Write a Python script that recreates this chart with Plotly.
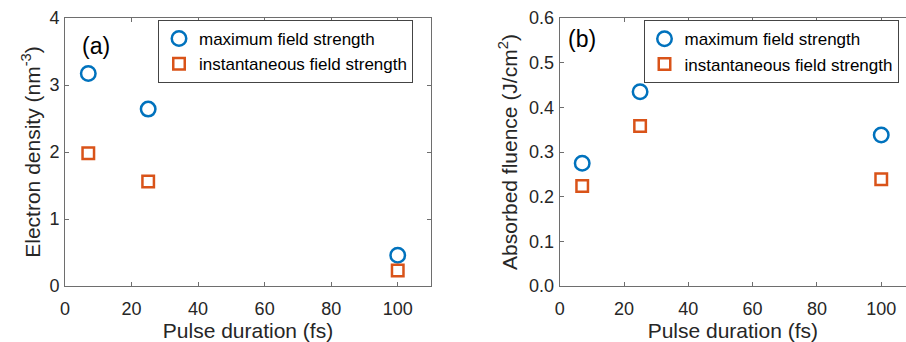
import plotly.graph_objects as go

pulse_fs = [7, 25, 100]
density_max = [3.17, 2.64, 0.46]
density_inst = [1.98, 1.56, 0.23]
fluence_max = [0.275, 0.435, 0.338]
fluence_inst = [0.224, 0.358, 0.239]

name_max = "maximum field strength"
name_inst = "instantaneous field strength"

BLUE = "#0072BD"
ORANGE = "#D95319"
TXT = "#262626"
LINE = "#6e6e6e"
FONT = "Liberation Sans, Arial, sans-serif"

W, H = 906, 342
ML, MR, MT, MB = 65, 0, 18, 56
PW = W - ML - MR

def px(x):
    return (x - ML) / PW

fig = go.Figure()
circ = dict(symbol="circle-open", size=14.5, line=dict(width=2.5, color=BLUE), color=BLUE)
sq = dict(symbol="square-open", size=11.5, line=dict(width=2.5, color=ORANGE), color=ORANGE)

fig.add_trace(go.Scatter(x=pulse_fs, y=density_max, mode="markers", name=name_max,
                         marker=circ, xaxis="x", yaxis="y", legend="legend"))
fig.add_trace(go.Scatter(x=pulse_fs, y=density_inst, mode="markers", name=name_inst,
                         marker=sq, xaxis="x", yaxis="y", legend="legend"))
fig.add_trace(go.Scatter(x=pulse_fs, y=fluence_max, mode="markers", name=name_max,
                         marker=circ, xaxis="x2", yaxis="y2", legend="legend2"))
fig.add_trace(go.Scatter(x=pulse_fs, y=fluence_inst, mode="markers", name=name_inst,
                         marker=sq, xaxis="x2", yaxis="y2", legend="legend2"))

axcommon = dict(showgrid=False, zeroline=False, showline=True, linecolor=LINE, linewidth=1,
                ticks="inside", ticklen=4, tickcolor=LINE,
                tickfont=dict(family=FONT, size=18, color=TXT))
titlefont = dict(family=FONT, size=21, color=TXT)

legcommon = dict(bgcolor="white", bordercolor="#444", borderwidth=1,
                 font=dict(family=FONT, size=17, color="black"),
                 xanchor="left", yanchor="top", tracegroupgap=0, itemsizing="trace")

fig.update_layout(
    width=W, height=H,
    margin=dict(l=ML, r=MR, t=MT, b=MB, autoexpand=False),
    paper_bgcolor="white", plot_bgcolor="white",
    xaxis=dict(domain=[0, px(431)], range=[0, 110], tickvals=[0, 20, 40, 60, 80, 100],
               mirror="ticks", anchor="y", ticklabelstandoff=6,
               title=dict(text="Pulse duration (fs)", font=titlefont, standoff=4), **axcommon),
    yaxis=dict(domain=[0, 1], range=[0, 4], tickvals=[0, 1, 2, 3, 4], mirror="ticks", anchor="x",
               ticklabelstandoff=1, tickformat="d",
               title=dict(text="Electron density (nm<sup>-3</sup>)", font=titlefont, standoff=3), **axcommon),
    xaxis2=dict(domain=[px(559.7), 1], range=[0, 107.7], tickvals=[0, 20, 40, 60, 80, 100],
                mirror="ticks", anchor="y2", ticklabelstandoff=6,
                title=dict(text="Pulse duration (fs)", font=titlefont, standoff=4), **axcommon),
    yaxis2=dict(domain=[0, 1], range=[0, 0.6], tickvals=[0, 0.1, 0.2, 0.3, 0.4, 0.5, 0.6],
                tickformat=".1f", anchor="x2", mirror=False, ticklabelstandoff=1,
                title=dict(text="Absorbed fluence (J/cm<sup>2</sup>)", font=titlefont, standoff=5), **axcommon),
    legend=dict(x=px(158), y=(286 - 20) / 268, **legcommon),
    legend2=dict(x=px(643.5), y=(286 - 20.3) / 268, **legcommon),
    annotations=[
        dict(text="(a)", xref="x domain", yref="y domain", x=(80 - 65) / 366, y=(286 - 46) / 268,
             xanchor="left", yanchor="middle", showarrow=False, font=dict(family=FONT, size=23, color="black")),
        dict(text="(b)", xref="x2 domain", yref="y2 domain", x=(566.3 - 559.7) / 346.3, y=(285.7 - 39) / 267.4,
             xanchor="left", yanchor="middle", showarrow=False, font=dict(family=FONT, size=23, color="black")),
    ],
)

fig.write_html("out.html")
